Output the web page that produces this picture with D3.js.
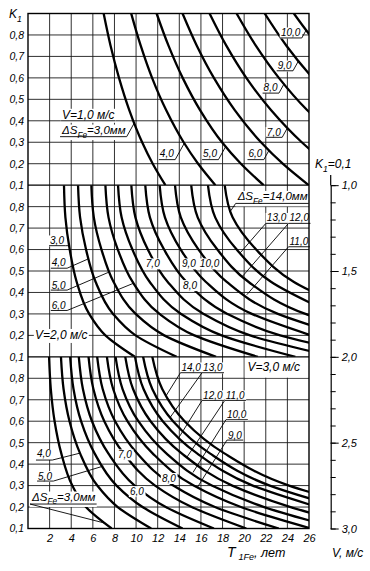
<!DOCTYPE html>
<html><head><meta charset="utf-8">
<script src="https://cdn.jsdelivr.net/npm/d3@7"></script>
<style>
html,body{margin:0;padding:0;background:#fff;}
svg{display:block;font-family:"Liberation Sans",Arial,sans-serif;font-style:italic;}
</style></head><body>
<svg id="c" width="370" height="571"></svg>
<script>
// ---------- data ----------
const T_TICKS = [2,4,6,8,10,12,14,16,18,20,22,24,26];
const K_TICKS = [0.1,0.2,0.3,0.4,0.5,0.6,0.7,0.8];
const V_MINOR = [1.0,1.1,1.2,1.3,1.4,1.5,1.6,1.7,1.8,1.9,2.0,2.1,2.2,2.3,2.4,2.5,2.6,2.7,2.8,2.9,3.0];
const V_MAJOR = [1.0,1.5,2.0,2.5,3.0];
const PANEL_V = ["1,0","2,0","3,0"];
const K_LEVELS = [0.9,0.75,0.6,0.45,0.3,0.2,0.1];

// panel V = 1.0 m/s : T1Fe at K_LEVELS for each ΔS
const DS_TOP = [3,4,5,6,7,8,9,10];
const T_TOP = [
 [7.0, 7.64, 8.42, 9.37, 10.56, 11.54, 12.71],
 [9.55, 10.43, 11.48, 12.78, 14.40, 15.74, 17.34],
 [11.9, 13.0, 14.31, 15.92, 17.95, 19.7, 21.8],
 [14.3, 15.62, 17.2, 19.13, 21.56, 23.57, 25.97],
 [16.8, 18.35, 20.2, 22.48, 25.33, 27.69, 30.51],
 [19.3, 21.08, 23.21, 25.82, 29.1],
 [21.9, 23.91, 26.34, 29.3],
 [24.6, 26.86, 29.58]
];
// panel V = 2.0 m/s
const DS_MID = [3,4,5,6,7,8,9,10,11,12,13,14];
const T_MID = [
 [3.33, 3.46, 3.86, 4.50, 5.66, 7.16, 9.89],
 [4.63, 4.82, 5.37, 6.25, 7.87, 9.95, 13.75],
 [5.86, 6.09, 6.80, 7.91, 9.96, 12.60, 17.40],
 [7.16, 7.45, 8.31, 9.67, 12.17, 15.39, 21.27],
 [8.33, 8.66, 9.66, 11.25, 14.16, 17.91, 24.74],
 [9.56, 9.94, 11.09, 12.91, 16.25, 20.55, 28.39],
 [10.85, 11.28, 12.59, 14.65, 18.45, 23.33, 32.22],
 [12.18, 12.67, 14.13, 16.44, 20.71, 26.19],
 [13.6, 14.14, 15.78, 18.36, 23.12, 29.24],
 [15.1, 15.70, 17.52, 20.39, 25.67, 32.47],
 [16.65, 17.32, 19.31, 22.48, 28.31],
 [18.2, 18.93, 21.11, 24.57, 30.94]
];
// panel V = 3.0 m/s
const DS_BOT = [3,4,5,6,7,8,9,10,11,12,13,14];
const T_BOT = [
 [1.95, 2.11, 2.46, 3.08, 4.10, 5.36, 7.74],
 [3.05, 3.29, 3.84, 4.82, 6.41, 8.30, 11.4],
 [3.9, 4.21, 4.91, 6.16, 8.19, 10.60, 14.3],
 [4.7, 5.08, 5.92, 7.43, 9.87, 12.75, 17.2],
 [5.6, 6.05, 7.06, 8.85, 11.76, 15.15, 20.2],
 [6.4, 6.91, 8.06, 10.11, 13.44, 17.30, 23.2],
 [7.3, 7.88, 9.20, 11.53, 15.33, 19.70, 26.2],
 [8.1, 8.75, 10.21, 12.80, 17.01, 21.85, 28.8],
 [9.0, 9.72, 11.34, 14.22, 18.90, 24.30, 31.5],
 [9.9, 10.69, 12.47, 15.64, 20.79, 26.80],
 [10.65, 11.50, 13.42, 16.83, 22.37, 28.80],
 [11.5, 12.42, 14.49, 18.17, 24.15, 31.10]
];

// ---------- annotations (placement in data units) ----------
const LABELS = [
 {p:0, s:"V=1,0 м/с", T:3.15, K:0.407, shelfK:0.4, fs:12},
 {p:0, s:"ΔS_{Fe}=3,0мм", T:3.15, K:0.338, shelfK:0.326, fs:11.5, lead:{c:3, from:"end", dir:1, m:-1.8}},
 {p:0, s:"4,0", T:12.2, K:0.229, shelfK:0.219, lead:{c:4, from:"end", dir:1, m:-1.8}},
 {p:0, s:"5,0", T:16.2, K:0.229, shelfK:0.219, lead:{c:5, from:"end", dir:1, m:-1.8}},
 {p:0, s:"6,0", T:20.4, K:0.229, shelfK:0.219, lead:{c:6, from:"end", dir:1, m:-1.8}},
 {p:0, s:"7,0", T:22.1, K:0.331, shelfK:0.323, lead:{c:7, from:"end", dir:1, m:-1.8}},
 {p:0, s:"8,0", T:21.8, K:0.539, shelfK:0.529, lead:{c:8, from:"end", dir:1, m:-1.8}},
 {p:0, s:"9,0", T:23.1, K:0.641, shelfK:0.633, lead:{c:9, from:"end", dir:1, m:-1.8}},
 {p:0, s:"10,0", T:23.4, K:0.795, shelfK:0.786, lead:{c:10, from:"end", dir:1, m:-1.8}},

 {p:1, s:"3,0", T:2.04, K:0.626, shelfK:0.618, lead:{c:3, from:"end", dir:1, m:0}},
 {p:1, s:"4,0", T:2.2, K:0.521, shelfK:0.513, lead:{c:4, from:"end", dir:1, m:-0.44}},
 {p:1, s:"5,0", T:2.2, K:0.418, shelfK:0.411, lead:{c:5, from:"end", dir:1, m:-0.43}},
 {p:1, s:"6,0", T:2.2, K:0.323, shelfK:0.316, lead:{c:6, from:"end", dir:1, m:-0.41}},
 {p:1, s:"V=2,0 м/с", T:0.65, K:0.181, fs:12},
 {p:1, s:"7,0", T:10.9, K:0.519},
 {p:1, s:"9,0", T:14.25, K:0.519},
 {p:1, s:"10,0", T:15.9, K:0.519},
 {p:1, s:"8,0", T:14.35, K:0.418},
 {p:1, s:"ΔS_{Fe}=14,0мм", T:19.4, K:0.829, shelfK:0.815, fs:11.5, lead:{c:14, from:"start", dir:-1, m:1.5}},
 {p:1, s:"13,0", T:22.1, K:0.731, shelfK:0.722, lead:{c:13, from:"start", dir:-1, m:1.15}},
 {p:1, s:"12,0", T:24.2, K:0.731, shelfK:0.722, lead:{c:12, from:"start", dir:-1, m:1.15}},
 {p:1, s:"11,0", T:24.2, K:0.621, shelfK:0.613, lead:{c:11, from:"start", dir:-1, m:1.15}},

 {p:2, s:"4,0", T:0.83, K:0.431, shelfK:0.419, lead:{c:4, from:"end", dir:1, m:-0.25}},
 {p:2, s:"5,0", T:0.93, K:0.328, shelfK:0.321, lead:{c:5, from:"end", dir:1, m:-0.3}},
 {p:2, s:"ΔS_{Fe}=3,0мм", T:0.37, K:0.228, shelfK:0.214, fs:11.5, lead:{c:3, from:"start", dir:1, m:0.255}},
 {p:2, s:"7,0", T:8.33, K:0.429},
 {p:2, s:"6,0", T:9.44, K:0.258, leadK:0.265, lead:{c:6, from:"end", dir:1, m:0.1}},
 {p:2, s:"8,0", T:12.4, K:0.319},
 {p:2, s:"V=3,0 м/с", T:20.3, K:0.832, fs:12, cell:[20,26,0.8,0.9]},
 {p:2, s:"14,0", T:14.2, K:0.834, shelfK:0.826, lead:{c:14, from:"start", dir:-1, m:1.6}},
 {p:2, s:"13,0", T:16.2, K:0.834, shelfK:0.826, lead:{c:13, from:"start", dir:-1, m:1.4}},
 {p:2, s:"12,0", T:16.2, K:0.704, shelfK:0.697, lead:{c:12, from:"start", dir:-1, m:1.6}},
 {p:2, s:"11,0", T:18.3, K:0.704, shelfK:0.697, lead:{c:11, from:"start", dir:-1, m:1.5}},
 {p:2, s:"10,0", T:18.41, K:0.613, shelfK:0.607, lead:{c:10, from:"start", dir:-1, m:1.6}},
 {p:2, s:"9,0", T:18.5, K:0.517, shelfK:0.512, lead:{c:9, from:"start", dir:-1, m:1.6}}
];

// ---------- layout ----------
const L=28, R=309, TOP=13.5, BOT=528.5, PH=(BOT-TOP)/3;
const svg = d3.select("#c");
svg.append("rect").attr("width",370).attr("height",571).attr("fill","#fff");
const x = d3.scaleLinear().domain([0,26]).range([L,R]);
const ys = [0,1,2].map(i => d3.scaleLinear().domain([0.1,0.9]).range([TOP+PH*(i+1), TOP+PH*i]));
const PANELS = [{ds:DS_TOP,t:T_TOP},{ds:DS_MID,t:T_MID},{ds:DS_BOT,t:T_BOT}];
const fmt = d => d3.format(".1f")(d).replace(".",",");

// clip paths
const defs = svg.append("defs");
ys.forEach((y,i)=>defs.append("clipPath").attr("id","clip"+i).append("rect")
  .attr("x",x(0)).attr("y",y(0.9)).attr("width",x(26)-x(0)).attr("height",y(0.1)-y(0.9)));

// grid
const grid = svg.append("g").attr("stroke","#1a1a1a").attr("stroke-width",0.9);
grid.selectAll("line.v").data(T_TICKS.slice(0,-1)).join("line").attr("class","v")
  .attr("x1",d=>x(d)).attr("x2",d=>x(d)).attr("y1",TOP).attr("y2",BOT);
ys.forEach(y=>{
  grid.append("g").selectAll("line").data(K_TICKS.slice(1)).join("line")
    .attr("x1",L).attr("x2",R).attr("y1",d=>y(d)).attr("y2",d=>y(d));
});

// curves
PANELS.forEach((P,i)=>{
  const y = ys[i];
  const line = d3.line().x(d=>x(d[0])).y(d=>y(d[1])).curve(d3.curveMonotoneY);
  svg.append("g").attr("clip-path",`url(#clip${i})`)
    .selectAll("path").data(P.t).join("path")
    .attr("d", row => line(row.map((t,j)=>[t,K_LEVELS[j]])))
    .attr("fill","none").attr("stroke","#000").attr("stroke-width",2.3);
});

function curveTAt(P, ci, k){
  const row = P.t[ci];
  return d3.scaleLinear().domain(K_LEVELS.slice(0,row.length)).range(row)(k);
}
function leaderEnd(p, c, x0, y0, dir, m){
  const P = PANELS[p], ci = P.ds.indexOf(c), y = ys[p];
  let prev = null;
  for (let s=0; s<260; s+=0.25){
    const px = x0 + dir*s, py = y0 + m*s;
    const k = y.invert(py);
    if (k < 0.1 || k > 0.9 || px < L || px > R+2) break;
    const d = x(curveTAt(P,ci,k)) - px;
    if (prev !== null && Math.sign(d) !== Math.sign(prev)) return [px,py];
    prev = d;
  }
  return null;
}
function richText(g, s, px, py, size){
  const t = g.append("text").attr("x",px).attr("y",py).attr("font-size",size).attr("fill","#000");
  const parts = s.split(/(_\{[^}]*\})/);
  let sub = false;
  parts.forEach(p=>{
    if (!p) return;
    const mm = p.match(/^_\{(.*)\}$/);
    if (mm){ t.append("tspan").attr("font-size",size*0.72).attr("dy",size*0.3).text(mm[1]); sub=true; }
    else { const ts=t.append("tspan").text(p); if(sub){ts.attr("dy",-size*0.3); sub=false;} }
  });
  return t;
}

// labels
const lg = svg.append("g");
LABELS.forEach(lb=>{
  const y = ys[lb.p];
  const g = lg.append("g");
  const fs = lb.fs || 10;
  const box = g.append("rect").attr("fill","#fff");
  const t = richText(g, lb.s, x(lb.T), y(lb.K), fs);
  const bb = t.node().getBBox();
  if (lb.cell){
    box.attr("x",x(lb.cell[0])+0.6).attr("width",x(lb.cell[1])-x(lb.cell[0])-1.2)
       .attr("y",y(lb.cell[3])+0.6).attr("height",y(lb.cell[2])-y(lb.cell[3])-1.2);
  } else {
    box.attr("x",bb.x-1.2).attr("y",bb.y+0.5).attr("width",bb.width+2.4).attr("height",bb.height);
  }
  let x0 = bb.x-1, x1 = bb.x+bb.width+1;
  if (lb.shelfK !== undefined){
    g.append("line").attr("x1",x0).attr("x2",x1).attr("y1",y(lb.shelfK)).attr("y2",y(lb.shelfK))
      .attr("stroke","#000").attr("stroke-width",0.9);
  }
  if (lb.lead){
    const sk = lb.shelfK !== undefined ? lb.shelfK : lb.leadK;
    const sx = lb.lead.from === "start" ? x0 : x1, sy = y(sk);
    const e = leaderEnd(lb.p, lb.lead.c, sx, sy, lb.lead.dir, lb.lead.m);
    if (e) g.append("line").attr("x1",sx).attr("y1",sy).attr("x2",e[0]).attr("y2",e[1])
      .attr("stroke","#000").attr("stroke-width",0.9);
  }
});

// frame & panel borders
const fr = svg.append("g").attr("stroke","#000").attr("stroke-width",1.4).attr("fill","none");
fr.append("rect").attr("x",L).attr("y",TOP).attr("width",R-L).attr("height",BOT-TOP);
[0,1].forEach(i=>fr.append("line").attr("x1",L).attr("x2",R).attr("y1",ys[i](0.1)).attr("y2",ys[i](0.1)));

// left axes
ys.forEach(y=>{
  const a = svg.append("g").attr("transform",`translate(${L},0)`)
    .call(d3.axisLeft(y).tickValues(K_TICKS).tickSize(0).tickPadding(4).tickFormat(fmt));
  a.select(".domain").remove();
  a.selectAll("text").attr("font-size",10.5).attr("font-family",null);
});
richText(svg, "K_{1}", 9, 18, 12);

// bottom axis
const bx = svg.append("g").attr("transform",`translate(0,${BOT})`)
  .call(d3.axisBottom(x).tickValues(T_TICKS).tickSize(0).tickPadding(6).tickFormat(d3.format("d")));
bx.select(".domain").remove();
bx.selectAll("text").attr("font-size",11).attr("font-family",null);
const tt = svg.append("text").attr("x",227).attr("y",557).attr("fill","#000");
tt.append("tspan").attr("font-size",14).text("T");
tt.append("tspan").attr("font-size",9).attr("dx",3).attr("dy",2.5).text("1Fe");
tt.append("tspan").attr("font-size",12.5).attr("dy",-2.5).text(", лет");

// right v-axis
const vScale = d3.scaleLinear().domain([1,3]).range([ys[0](0.1), BOT]);
const AX = 330.7;
const r1 = svg.append("g").attr("transform",`translate(${AX},0)`)
  .call(d3.axisRight(vScale).tickValues(V_MINOR).tickSize(5).tickSizeOuter(0).tickFormat(""));
const r2 = svg.append("g").attr("transform",`translate(${AX},0)`)
  .call(d3.axisRight(vScale).tickValues(V_MAJOR).tickSize(8).tickSizeOuter(0).tickPadding(3).tickFormat(fmt));
r2.select(".domain").remove();
[r1,r2].forEach(a=>a.selectAll("line").attr("stroke","#000").attr("stroke-width",1));
r1.select(".domain").attr("stroke","#000").attr("stroke-width",1.2);
r2.selectAll("text").attr("font-size",11).attr("font-family",null);
svg.append("line").attr("x1",AX).attr("x2",AX).attr("y1",175).attr("y2",vScale(1))
  .attr("stroke","#000").attr("stroke-width",1.2);
richText(svg, "K_{1}=0,1", 315, 168, 12);
svg.append("text").attr("x",332).attr("y",557).attr("font-size",12).text("V, м/с");
</script>
</body></html>
